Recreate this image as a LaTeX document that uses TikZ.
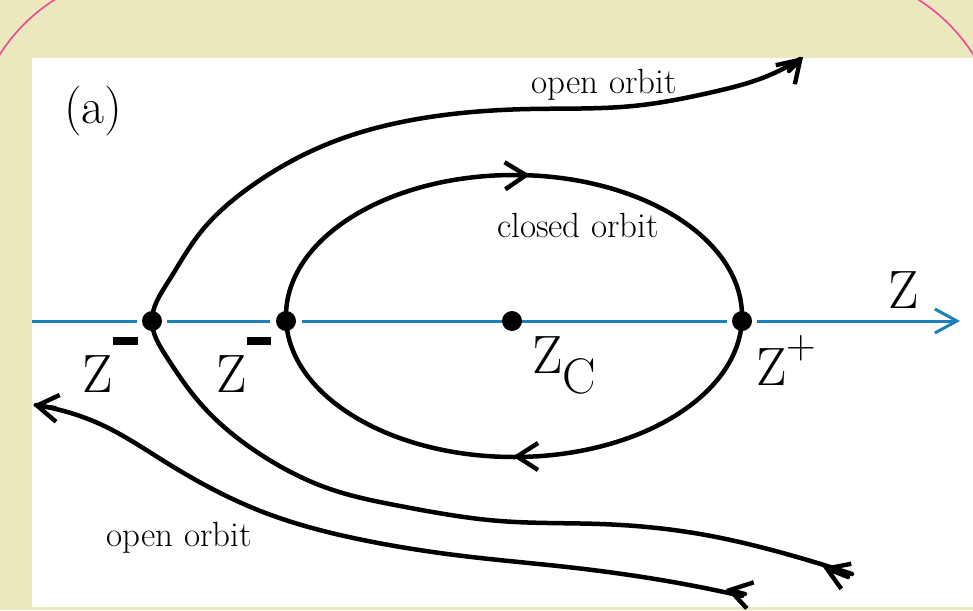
\documentclass[tikz,border=0pt]{standalone}
\usetikzlibrary{arrows.meta,hobby}
\definecolor{bgbeige}{RGB}{234,232,188}
\definecolor{axblue}{RGB}{30,128,186}
\definecolor{framepink}{RGB}{240,70,150}
\begin{document}
\begin{tikzpicture}[x=1pt,y=-1pt,
  orbit/.style={line width=4.5pt, line cap=round, line join=round},
  barb/.style={line width=4.4pt, line cap=round, -{Straight Barb[length=21pt,width=27pt]}},
  dot/.style={circle, fill=black, inner sep=0pt, minimum size=20pt},
  lbl/.style={inner sep=0pt, anchor=base west, font=\fontsize{54}{60}\selectfont},
  txt/.style={inner sep=0pt, anchor=base, font=\fontsize{35}{40}\selectfont},
  axis/.style={axblue, line width=3pt}]
\useasboundingbox (0,0) rectangle (973,610);
\clip (0,0) rectangle (973,610);
\fill[bgbeige] (0,0) rectangle (973,610);
\draw[framepink, line width=1.6pt, rounded corners=178pt] (-28,-28) rectangle (1001,1000);
\fill[white] (32,58) rectangle (973,607);

% positions of fixed points
\coordinate (pm1) at (152,321);
\coordinate (pm2) at (286,321);
\coordinate (pc) at (512,321);
\coordinate (pp) at (742,321);
\coordinate (ax0) at (32,321);
\coordinate (ax1) at (960,321);

% axis
\draw[axis] (ax0) -- ([xshift=-15pt]pm1);
\draw[axis] ([xshift=15pt]pm1) -- ([xshift=-16pt]pm2);
\draw[axis] ([xshift=16pt]pm2) -- ([xshift=-15pt]pp);
\draw[axis, -{Straight Barb[length=22pt,width=24pt]}] ([xshift=15pt]pp) -- (ax1);

% closed orbit
\draw[orbit] (514,316) ellipse [x radius=228, y radius=141];
\draw[barb] (520,175.3) -- (530,175);
\draw[barb] (523,456.5) -- (513,456.5);

% outer open orbit (through Z-)
\draw[orbit] (852,574) to[curve through={(790,555) (700,534) (600,524) (500,521) (400,506) (330,489) (263,456) (200,403) (166,356) (pm1) (168,282) (200,233) (250,187) (330,143) (430,117) (530,109) (633,106) (713,92) (765,77)}] (800,59);
\draw[barb] (789,71) -- (803,57);
\draw[barb] (848,577) -- (823,567);

% lower open orbit
\draw[orbit] (742,596) to[curve through={(667,581) (567,567) (463,556) (363,540) (263,512) (167,463) (100,424) (60,410)}] (36,405);
\draw[barb] (55,408) -- (33,405);
\draw[barb] (745,594) -- (726,589);

% dots
\node[dot] (zm1) at (pm1) {};
\node[dot] (zm2) at (pm2) {};
\node[dot] (zc) at (pc) {};
\node[dot] (zp) at (pp) {};

% texts
\node[txt] (t1) at (604,93) {open orbit};
\node[txt] (t2) at (578,237) {closed orbit};
\node[txt] (t3) at (179,546) {open orbit};
\node[inner sep=0pt, anchor=base west, font=\fontsize{50}{56}\selectfont] (lab) at (64,123) {(a)};

\node[lbl] (l1) at (82,392) {Z\raisebox{47pt}{\rule{25pt}{8pt}}};
\node[lbl] (l2) at (216,392) {Z\raisebox{47pt}{\rule{24pt}{8pt}}};
\node[lbl] (l3) at (532,373) {Z\raisebox{-20pt}{\fontsize{50}{56}\selectfont C}};
\node[lbl] (l4) at (756,385) {Z\raisebox{27pt}{\fontsize{41}{46}\selectfont +}};
\node[lbl] (l5) at (888,308) {Z};
\end{tikzpicture}
\end{document}
